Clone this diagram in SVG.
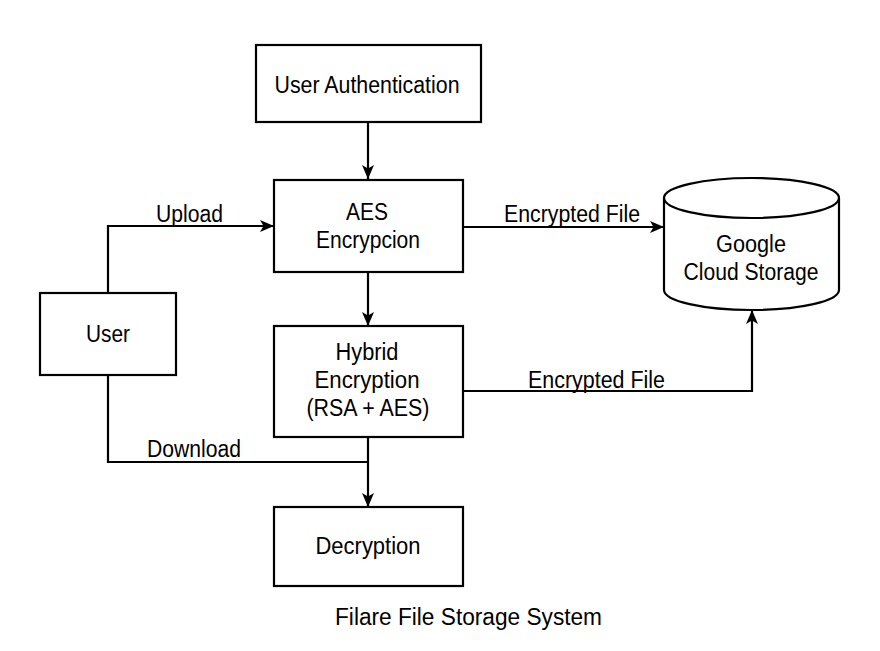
<svg xmlns="http://www.w3.org/2000/svg" width="880" height="651" viewBox="0 0 880 651">
<defs>
<marker id="arr" viewBox="0 0 14 12" refX="14" refY="6" markerWidth="14" markerHeight="12" markerUnits="userSpaceOnUse" orient="auto">
<path d="M0,0 L14,6 L0,12 L3.5,6 Z" fill="#000"/>
</marker>
</defs>
<style>
.box{fill:#fff;stroke:#000;stroke-width:2.2}
.t{font-family:"Liberation Sans",Arial,sans-serif;font-size:23px;fill:#000;text-anchor:middle}
.l{font-family:"Liberation Sans",Arial,sans-serif;font-size:23px;fill:#000}
.c{fill:none;stroke:#000;stroke-width:2.2}
</style>
<rect width="880" height="651" fill="#fff"/>
<g id="connectors">
<path class="c" d="M368,122 V179" marker-end="url(#arr)"/>
<path class="c" d="M108,293 V226 H274" marker-end="url(#arr)"/>
<path class="c" d="M463,227 H664" marker-end="url(#arr)"/>
<path class="c" d="M368,272 V326" marker-end="url(#arr)"/>
<path class="c" d="M463,391 H752 V310" marker-end="url(#arr)"/>
<path class="c" d="M108,375 V462 H368"/>
<path class="c" d="M368,437 V507" marker-end="url(#arr)"/>
<text class="l" x="156" y="222" textLength="67" lengthAdjust="spacingAndGlyphs">Upload</text>
<text class="l" x="504" y="222" textLength="136" lengthAdjust="spacingAndGlyphs">Encrypted File</text>
<text class="l" x="528" y="388" textLength="137" lengthAdjust="spacingAndGlyphs">Encrypted File</text>
<text class="l" x="147" y="457" textLength="94" lengthAdjust="spacingAndGlyphs">Download</text>
</g>
<g id="auth">
<rect class="box" x="256" y="45" width="225" height="77"/>
<text class="t" x="367" y="93" textLength="185" lengthAdjust="spacingAndGlyphs">User Authentication</text>
</g>
<g id="aes">
<rect class="box" x="274" y="180" width="189" height="92"/>
<text class="t" x="367" y="220" textLength="42" lengthAdjust="spacingAndGlyphs">AES</text>
<text class="t" x="368" y="248" textLength="104" lengthAdjust="spacingAndGlyphs">Encrypcion</text>
</g>
<g id="user">
<rect class="box" x="40" y="293" width="136" height="82"/>
<text class="t" x="108" y="342" textLength="44" lengthAdjust="spacingAndGlyphs">User</text>
</g>
<g id="hybrid">
<rect class="box" x="274" y="326" width="189" height="111"/>
<text class="t" x="367" y="360" textLength="63" lengthAdjust="spacingAndGlyphs">Hybrid</text>
<text class="t" x="367" y="388" textLength="105" lengthAdjust="spacingAndGlyphs">Encryption</text>
<text class="t" x="368" y="416" textLength="123" lengthAdjust="spacingAndGlyphs">(RSA + AES)</text>
</g>
<g id="decryption">
<rect class="box" x="274" y="507" width="189" height="79"/>
<text class="t" x="368" y="554" textLength="105" lengthAdjust="spacingAndGlyphs">Decryption</text>
</g>
<g id="cloud">
<path class="box" d="M664,198 A87.5,20 0 0 1 839,198 V290 A87.5,20 0 0 1 664,290 Z"/>
<path class="c" d="M664,198 A87.5,20 0 0 0 839,198"/>
<text class="t" x="751" y="252" textLength="70" lengthAdjust="spacingAndGlyphs">Google</text>
<text class="t" x="751" y="280" textLength="135" lengthAdjust="spacingAndGlyphs">Cloud Storage</text>
</g>
<text class="l" x="335" y="625" textLength="267" lengthAdjust="spacingAndGlyphs">Filare File Storage System</text>
</svg>
